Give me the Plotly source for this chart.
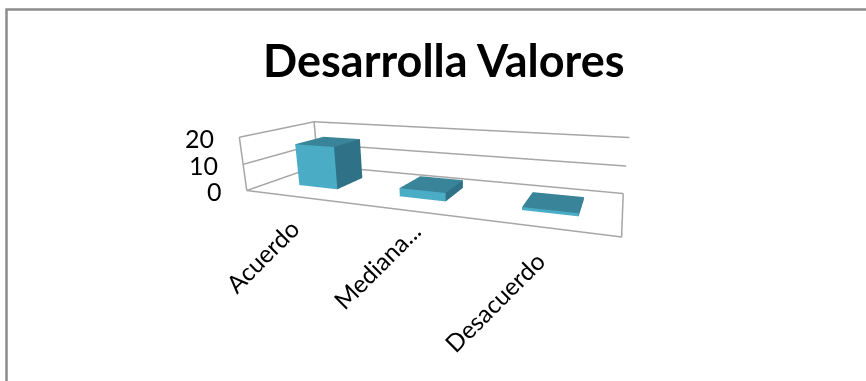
import plotly.graph_objects as go

categorias = ['Acuerdo', 'Mediana...', 'Desacuerdo']
valores = [16, 3, 1]
ticks_z = [0, 10, 20]

rango_x = [-0.515, 2.485]
rango_y = [0, 1]
rango_z = [0, 20]
ancho = 0.2      # media barra
fondo = [0.3, 0.71]
holgura = 0.01   # el marco no debe quedar justo en el borde de la escena
# ajuste fino de cada etiqueta (px)
ajuste_x = [12.5, 23, 11]
ajuste_y = [-14.5, -4, -16]

AZUL_FRENTE = '#4bacc6'
AZUL_LADO = '#2f7186'
AZUL_TOPE = '#3a8499'
GRIS = '#a6a6a6'


def barra(i, v):
    x0, x1 = i - ancho, i + ancho
    y0, y1 = fondo
    xs = [x0, x1, x1, x0, x0, x1, x1, x0]
    ys = [y0, y0, y1, y1, y0, y0, y1, y1]
    zs = [0, 0, 0, 0, v, v, v, v]
    caras = [
        (0, 1, 5, AZUL_FRENTE), (0, 5, 4, AZUL_FRENTE),
        (1, 2, 6, AZUL_LADO), (1, 6, 5, AZUL_LADO),
        (4, 5, 6, AZUL_TOPE), (4, 6, 7, AZUL_TOPE),
    ]
    return go.Mesh3d(
        x=xs, y=ys, z=zs,
        i=[c[0] for c in caras], j=[c[1] for c in caras], k=[c[2] for c in caras],
        facecolor=[c[3] for c in caras], flatshading=True,
        lighting=dict(ambient=1, diffuse=0, specular=0, roughness=1, fresnel=0),
        hoverinfo='skip', showscale=False,
    )


def linea(xs, ys, zs):
    return go.Scatter3d(x=xs, y=ys, z=zs, mode='lines', line=dict(color=GRIS, width=3),
                        hoverinfo='skip', showlegend=False)


def ampliado(r):
    d = (r[1] - r[0]) * holgura
    return [r[0] - d, r[1] + d]


# marco: piso, pared izquierda y pared del fondo
xa, xb = rango_x
ya, yb = rango_y
marco = [linea([xa, xa, xb], [ya, yb, yb], [t, t, t]) for t in ticks_z]
marco.append(linea([xa, xb, xb], [ya, ya, yb], [0, 0, 0]))
marco.append(linea([xa, xa], [ya, ya], [0, rango_z[1]]))
marco.append(linea([xa, xa], [yb, yb], [0, rango_z[1]]))

fig = go.Figure(marco + [barra(i, v) for i, v in enumerate(valores)])

notas = [dict(x=xa, y=ya, z=t, text=str(t), showarrow=False, xanchor='right', yanchor='middle',
              xshift=-23, yshift=-1, font=dict(family='Lato', size=25, color='black')) for t in ticks_z]
notas += [dict(x=i, y=ya, z=0, text=c, showarrow=False, textangle=-45, xanchor='right', yanchor='top',
               xshift=ajuste_x[i], yshift=ajuste_y[i], font=dict(family='Lato', size=24.5, color='black'))
          for i, c in enumerate(categorias)]

eje = dict(visible=False, showgrid=False, zeroline=False, showspikes=False)
escala = 1 + 2 * holgura
fig.update_layout(
    width=866, height=381,
    margin=dict(l=0, r=0, t=0, b=0),
    paper_bgcolor='white',
    showlegend=False,
    title=dict(text='<b>Desarrolla Valores</b>', x=0.5125, xanchor='center', y=0.84, yanchor='middle',
               font=dict(family='Lato', size=45, color='black')),
    scene=dict(
        domain=dict(x=[143 / 866, 743 / 866], y=[4.5 / 381, 375.5 / 381]),
        xaxis=dict(range=ampliado(rango_x), **eje),
        yaxis=dict(range=ampliado(rango_y), **eje),
        zaxis=dict(range=ampliado(rango_z), **eje),
        aspectmode='manual',
        aspectratio=dict(x=1 * escala, y=0.3303 * escala, z=0.1534 * escala),
        camera=dict(
            eye=dict(x=0.4769, y=-1.099, z=0.2795),
            center=dict(x=0.0502, y=-0.0306, z=-0.0617),
            up=dict(x=-0.0968, y=0.2679, z=0.9583),
        ),
        annotations=notas,
    ),
    shapes=[dict(type='rect', xref='paper', yref='paper', x0=6.5 / 866, x1=1.02, y0=-0.02, y1=371.5 / 381,
                 line=dict(color='#8c8c8c', width=2.5))],
)

fig.write_html('out.html', config=dict(displayModeBar=False),
               post_script="document.body.style.margin='0';document.documentElement.style.overflow='hidden';")
